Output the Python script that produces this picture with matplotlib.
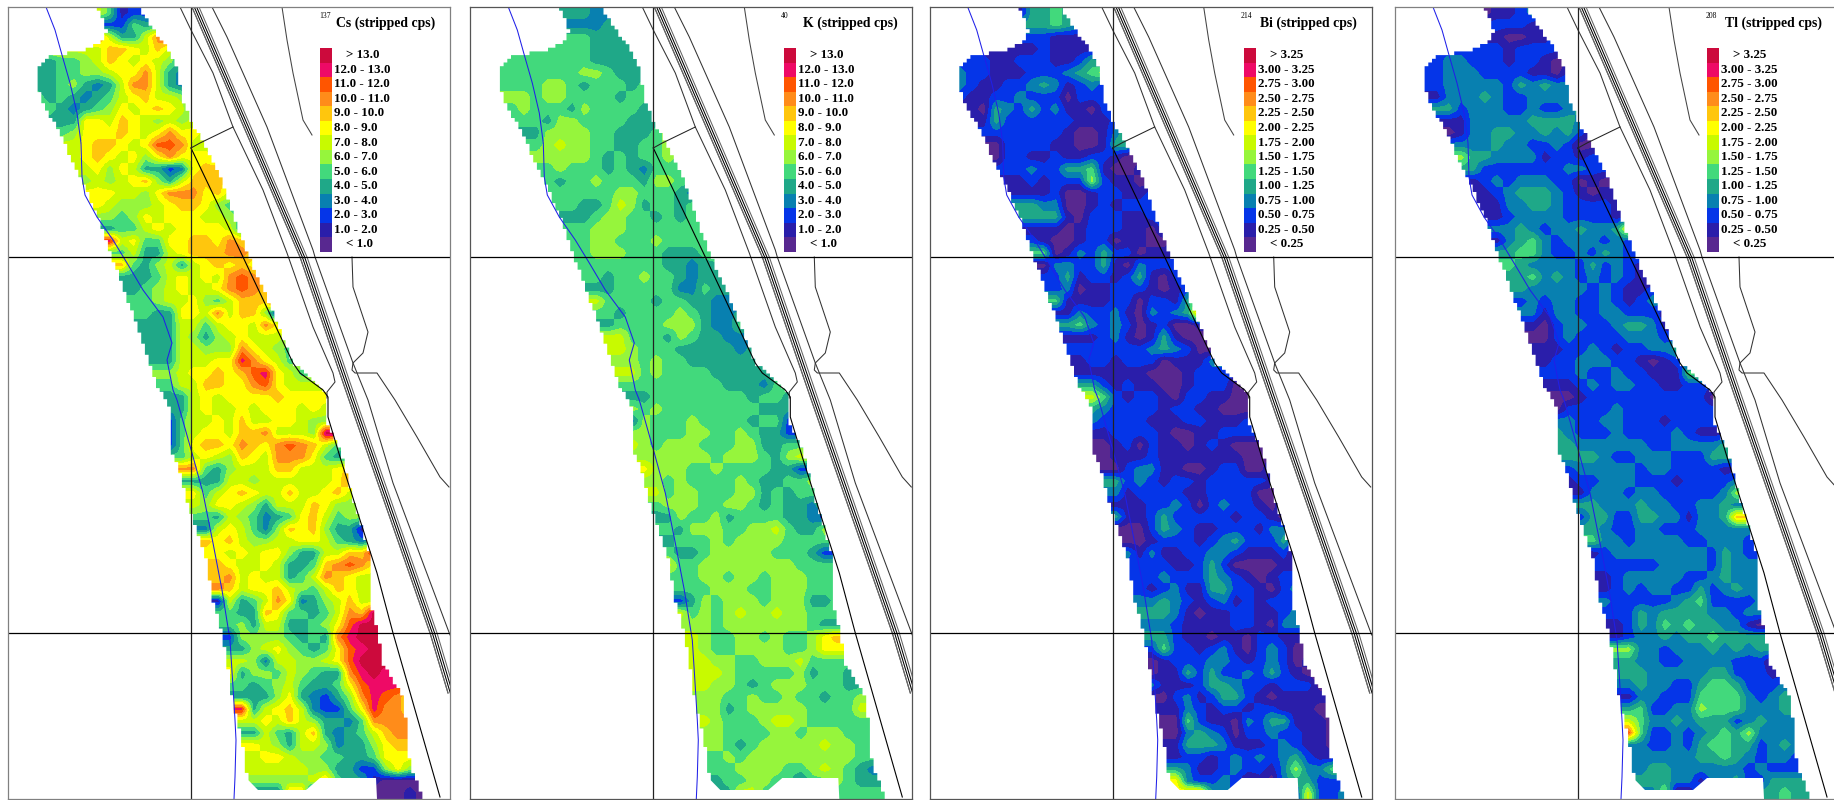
import numpy as np
import matplotlib
matplotlib.use('Agg')
import matplotlib.pyplot as plt
from matplotlib.colors import ListedColormap, BoundaryNorm
from matplotlib.patches import Polygon

# class colours, lowest (a) to highest (n)
class_colors = ['#582890', '#2A1EAA', '#0535E8', '#0880B0', '#1FA888', '#42D97C', '#96F53C',
                '#C8FA00', '#FFFF00', '#FFC60D', '#FF8C1A', '#FF5500', '#EE0A66', '#CC0A3C']
class_letters = 'abcdefghijklmn'

cs_labels = ['> 13.0', '12.0 - 13.0', '11.0 - 12.0', '10.0 - 11.0', '9.0 - 10.0', '8.0 - 9.0', '7.0 - 8.0',
             '6.0 - 7.0', '5.0 - 6.0', '4.0 - 5.0', '3.0 - 4.0', '2.0 - 3.0', '1.0 - 2.0', '< 1.0']
bi_labels = ['> 3.25', '3.00 - 3.25', '2.75 - 3.00', '2.50 - 2.75', '2.25 - 2.50', '2.00 - 2.25', '1.75 - 2.00',
             '1.50 - 1.75', '1.25 - 1.50', '1.00 - 1.25', '0.75 - 1.00', '0.50 - 0.75', '0.25 - 0.50', '< 0.25']

# one row of letters per 12 px of map, the start list says which 12 px column it begins in
cs_start = [7,8,7,6,3,2,2,2,3,4,4,5,5,6,6,7,7,8,8,8,9,9,10,10,11,11,11,12,12,12,13,13,14,13,13,13,13,14,14,15,15,15,16,16,16,17,17,17,17,17,18,18,18,18,18,18,19,19,19,20,20,20,20,20,20,21]
cs_rows = ["hfbcc","ccfee","kheehkm","hhjjihjhe","effghjihihge","eeffgghiikhed","eefgedehkkhed","fefedefhijhhg",
"fedefgihijihe","eeiihjihghgh","fgiiijihikiih","hijjihillkhhg","hijihigikiiih","higiheecdijji","ghghijgehjjji",
"iihhgikkkijh","ihggghijjigf","gfgihiiihhgf","effhihiiiihe","mhiffiijjikjj","fheehijjjkkj","jfeghehijijih",
"eefhihihklkj","efghihhiklkj","fghhigfhjjjn","feeiihkhjjgb","eeehhfhiihkin","eehgeghihhhg","eehhgggkihgf",
"eehhhiimkihfg","ghiijijlmihf","fhhjjiiklihhhh","ehihiiiijiiiib","eehihhihiiihihc","cfhhihjhhiihgg","cfhiihjjkhhhgn",
"cfijjikjiklkjhf","fhihgjihkkkife","kkfeghhhjjhhhij","eeehhghhhhhhik","ifhijihhjhhijh","hgiihgehhhjiggg",
"fehgfdefijhfgg","dhihfdgjijgeeb","jijhgghhiihfede","ihihiigeehhjjm","jihhiheefjklki","jkhihhefhkjihh",
"kjhiijhgfhjihh","bhefhkideghjhh","feejiffefhkjng","fgehheefgilnn","cggggfefekmnn","eeghigfefilmn","hhgdhhgghilnnn",
"ieggfhgfeekmnm","fefghfeefilmmm","eeegiedcegkmlki","mehijhdccfimkki","hihjhgeedfkkkk","ehfehjedefhjkk",
"ihgehhgdeegijj","hiihggffeefiii","hhhhhggeeccgig","ggggghjfeebaaaa","ddjjaaaaaaaaba"]

k_start = [7,8,7,6,3,3,3,3,3,4,4,5,5,6,6,7,7,8,9,8,9,9,10,10,10,11,11,12,12,12,13,13,14,13,13,13,13,14,14,15,15,15,15,16,16,16,16,17,17,17,17,18,18,18,18,18,19,19,19,19,20,20,20,20,20,20]
k_rows = ["eeedd","dddee","fffeeee","ffffeeeee","fffffffeeeee","ffffffggfeee","fffggfefffef","ggfggffffeff",
"fgfffegffffed","ffeggffffeee","eeggggffeeefg","fghggffeeffg","gggggfefeffgf","fgfffefedfff","feffgfffeggf",
"fffffggfffed","ffeefhgeffef","eefggffefeff","fgggfffffff","ffggfffgffff","fgggfffeeefg","fffffffeedee",
"feffgffedeef","eefffffddfee","hffffeffeeddb","feffffgfedde","effffgggeddf","hfffegfeeddc","hgfffeeeeede",
"ggfgffeeeeee","hfgffffeeeee","ffffffffeeedff","effffffffeffee","gfgffffffffeee","dgfffgffffeffc","ggfffggffgfeec",
"hgfgggfffggeeff","ggggggfgggfegh","igggffgffffeec","gfgffffgfeeffg","hfggfffggefeff","fgggffggfefeedf",
"eegffgeffffeedc","fegggffgghfeeg","efffgfggggffff","feefgggggfffec","hffggggggggfff","ffggfggfgggfff",
"fffgggffgggfff","cegfgggfgggeef","hfgfghgghggfff","ggfgggggggfee","hgffggfgffgij","hgffggggffgii","hhggffggghfff",
"hhhgfffffgeffe","hggfefgggfffee","ggffgffgffeffg","ggefgggggffffh","hgfffghhgfffff","gffffggfgggfff",
"gfefggggghggff","fgfgggggggggff","ffggggffghgfed","effggffdffgfeee","eehhfffffffffff"]

bi_start = [7,8,8,6,3,2,2,2,3,4,5,5,5,6,6,7,7,8,9,8,9,9,10,10,10,11,11,12,12,12,13,13,13,13,13,13,13,14,14,14,15,15,15,16,16,16,17,17,17,17,18,18,18,18,18,18,18,19,19,19,19,19,20,20,20,20]
bi_rows = ["beefe","eefed","ccbbba","bbbcbbbbc","ccbbcccbbced","dccbbbcccdefg","dcbbccdedbcdc","cbbccdcccaccc",
"baedcecdbbacc","beccccccbbbc","ccccccbaabdf","accccbbaabee","accbbcbbccbaa","ccdcceefbaab","bbcbcccgcbba",
"bbbcaabccbbc","eeddaabcbccc","eeebacccbbcd","bbabcccbbac","cbaabccabbaab","fabdceccabbb","addccebadccc",
"cebccbcebacc","cdabbcccbabc","fbbbbccaccbeg","bdccdbadcdek","efdcdcabcaab","bbcdbabebaaa","ccccccdedcaa",
"bccbcccabbbd","bbbbbaaabccc","ecbcbbaabcccaa","hfcbccbaccbbaae","edccccbccbbaaaf","dccccbbbccbbbc","bbccccbaabbccc",
"aabcacbbabcbaaa","abbbcbbbbbbbaa","aacddbbaabccaac","eecdcbccbcccccb","dbccccbbccccaa","bbbccdcacdccbac",
"ebbcecccccbccba","aacedcbbcccbdd","aabcccbcdecccec","dbdbbccddcbbbca","cccbbcecaaaabb","ccdcccedcbabcc",
"cbcdbbeeccbacd","ddedcbcdbcbccc","eedbabbccbbcde","ddcbbbbccbadd","eecbbabbaccbb","cfccbcdbacdca","abcccddcbcdcab",
"abbececcdcecba","dbbbceedccbccca","acdbceecbabbbb","bbdcbccbccbbbaa","aafcbbadceebbba","aadedcaccdccbba",
"bbeeedbbbcdcbba","bccbcdcdcdecbb","edbbcdccbdgddf","idccdcabadeeccc","ijjedcccccchccd"]

tl_start = [7,8,8,6,3,2,2,3,3,4,4,5,5,6,6,7,7,8,9,8,9,9,10,10,10,11,11,12,12,12,13,13,14,13,13,13,13,14,14,14,15,15,15,16,16,16,17,17,17,17,18,18,18,18,18,18,19,19,19,19,19,20,20,20,20,21]
tl_rows = ["abbcd","cccba","baabbc","cccbccccc","cddcccbccbaa","ccdddccccbbac","ccdddddcededd","bdddedccdddd",
"eecdddccdccde","bbdddddeeeed","abddeeddedeca","dddeddccdcaa","geeddddbccbc","ecccccccddcc","bcdcdddccaba",
"bcdeeedcbabb","bbddeedccccb","bcddddccccbc","dedcddeddei","bdefdcdddcdc","effdccdcedcd","feddddcecdcb",
"efdedcdcdcba","edddddcdcbbc","cdcddccdcbcd","dbddccddcccb","bacddccdeedb","acdccccdddc","bbccdcbccdde",
"bccdddccbabc","ccdccdccbbbf","bbcdcddccbbccc","abccccccccccaa","accccdcccccccca","ddccddcccbcccc","edcccdccccdcbb",
"eeddddddccdddde","eeedccdddcccee","cdddddcddccccb","bccdddcccbccccd","bdddcddcccccdg","eedddeddccdded",
"ceecceeddbddej","edccddcccdddd","fddcddddccdddc","bcddddddddcedc","cccccddddcedd","bcdddddccdedd",
"bcdcddccecdedd","dcccccdefccccd","ccedeeeeddcdde","bcedfefeeddba","bcddedeefeeee","ggddcdddedede","eeddccddddccca",
"eeedddddeecccb","deddcceffecccd","bddcccffffdcde","efccddgfffddde","hfddedeeecdedd","lfccdcdefegddd",
"dccdceffeecded","dddddeefedcddc","deeddddddcdccc","eeeddbddecceeee","dgaaeeeeeeefee"]

# outline of the surveyed strip
left_y = [7, 30, 40, 48, 55, 65, 88, 100, 115, 130, 150, 170, 190, 220, 245, 270, 300, 325, 355, 385, 400, 410, 445, 470, 500, 530, 560, 600, 630, 680, 700, 740, 760, 778]
left_x = [90, 100, 92, 79, 39, 30, 30, 35, 42, 52, 60, 70, 79, 92, 100, 110, 120, 130, 139, 150, 159, 162, 162, 172, 179, 189, 199, 205, 214, 222, 225, 234, 237, 240]
right_y = [7, 30, 50, 70, 100, 125, 150, 190, 230, 257, 290, 325, 365, 385, 400, 425, 455, 490, 530, 565, 610, 635, 665, 690, 700, 750, 775, 790, 799]
right_x = [130, 145, 159, 170, 174, 184, 199, 217, 230, 240, 255, 269, 285, 309, 320, 319, 334, 342, 354, 364, 364, 370, 375, 389, 397, 399, 405, 412, 415]
notch_x = [250, 298, 312, 368, 369]
notch_y = [790, 790, 778, 778, 799]

# line work, same on all four maps
river_x = [38, 47, 54, 62, 69, 73, 74, 77, 89, 105, 119, 135, 155, 164, 159, 165, 169, 184, 195, 205, 214, 222, 225, 227, 228, 227, 226]
river_y = [7, 30, 55, 83, 113, 143, 177, 195, 217, 240, 263, 290, 317, 343, 360, 390, 400, 453, 493, 543, 590, 640, 687, 720, 740, 777, 799]
coast_x = [183, 235, 285, 292, 315, 320, 320, 332, 352, 369, 385, 432]
coast_y = [148, 257, 363, 373, 390, 397, 417, 457, 520, 573, 633, 797]
stub_x = [183, 192, 225]
stub_y = [148, 143, 127]
road_x = [172, 183, 205, 225, 255, 279, 305, 325, 327, 319, 319]
road_y = [7, 30, 73, 127, 190, 253, 327, 373, 382, 392, 398]
rail_x = [184, 292, 340, 422, 440]
rail_y = [7, 257, 397, 633, 693]
rail_offsets = [0, 2.3, 4.6, 7]
east_x = [204, 219, 259, 305, 307, 345, 360, 385, 442]
east_y = [7, 37, 127, 250, 257, 363, 400, 483, 635]
curve_x = [274, 279, 285, 295, 304]
curve_y = [7, 40, 73, 120, 135]
creek_x = [344, 345, 360, 355, 345, 344, 347, 369, 387, 409, 432, 441]
creek_y = [257, 287, 332, 353, 363, 370, 373, 373, 400, 437, 477, 487]
grid_x = 183
grid_y = [257, 633]

panel_left = [8, 470.3, 929.7, 1395]
panel_frame = ['#808080', '#555555', '#555555', '#808080']
legend_left = [312, 314, 314, 312]
titles = ['Cs (stripped cps)', 'K (stripped cps)', 'Bi (stripped cps)', 'Tl (stripped cps)']
isotopes = ['137', '40', '214', '208']
panel_rows = [cs_rows, k_rows, bi_rows, tl_rows]
panel_start = [cs_start, k_start, bi_start, tl_start]
panel_labels = [cs_labels, cs_labels, bi_labels, bi_labels]

CELL = 12
STEP = 3.7
SERIF = 'Liberation Serif'


def grid_from_rows(rows, starts, ncols=37):
    # rows are padded out with their end values, the outline clips them later
    grid = np.zeros((len(rows), ncols))
    for r, (row, start) in enumerate(zip(rows, starts)):
        vals = [class_letters.index(ch) for ch in row]
        grid[r, :start] = vals[0]
        grid[r, start:start + len(vals)] = vals
        grid[r, start + len(vals):] = vals[-1]
    return grid


def strip_outline():
    # the map cells are blocky, so the outline goes in steps too
    ys = np.arange(7, 778, STEP)
    pts = []
    for y in ys:
        x = np.round(np.interp(y, left_y, left_x) / STEP) * STEP
        pts += [(x, y), (x, y + STEP)]
    pts += list(zip(notch_x, notch_y))
    for y in np.arange(799, 7, -STEP):
        x = np.round(np.interp(y, right_y, right_x) / STEP) * STEP
        pts += [(x, y), (x, y - STEP)]
    return pts


def draw_lines(ax):
    ax.plot(rail_x, rail_y, color='#555555', lw=0.8)
    for i, off in enumerate(rail_offsets):
        ax.plot(np.array(rail_x) + off, rail_y, color='black' if i % 3 else '#666666', lw=0.75)
    ax.plot(road_x, road_y, color='#333333', lw=0.75)
    ax.plot(east_x, east_y, color='#333333', lw=0.75)
    ax.plot(curve_x, curve_y, color='#444444', lw=0.75)
    ax.plot(creek_x, creek_y, color='#333333', lw=0.75)
    ax.plot(coast_x, coast_y, color='black', lw=0.8)
    ax.plot(stub_x, stub_y, color='#222222', lw=0.75)
    ax.plot(river_x, river_y, color='#2020E8', lw=0.75)
    ax.axvline(grid_x, color='#222222', lw=0.9)
    for y in grid_y:
        ax.axhline(y, color='black', lw=0.9)


def draw_legend(ax, i):
    x0 = legend_left[i]
    h = 14.55
    tops = 48 + h * np.arange(14)
    ax.bar([x0 + 6] * 14, [h] * 14, width=12, bottom=tops, color=class_colors[::-1], linewidth=0)
    for top, label in zip(tops, panel_labels[i]):
        x = x0 + 26 if label[0] in '<>' else x0 + 14
        ax.text(x, top + h / 2, label, family=SERIF, fontsize=9.4, fontweight='bold', ha='left', va='center')
    ax.text(427, 23, titles[i], family=SERIF, fontsize=9.9, fontweight='bold', ha='right', va='center')
    ax.text(311, 16, isotopes[i], family=SERIF, fontsize=5.5, ha='left', va='center')


fig = plt.figure(figsize=(18.34, 8.0), dpi=100, facecolor='white')
cmap = ListedColormap(class_colors)
norm = BoundaryNorm(np.arange(-0.5, 14.5), cmap.N)
outline = strip_outline()

for i in range(4):
    ax = fig.add_axes([panel_left[i] / 1834, 1 / 800, 442 / 1834, 792 / 800])
    grid = grid_from_rows(panel_rows[i], panel_start[i])
    extent = (0, grid.shape[1] * CELL, 7 + grid.shape[0] * CELL, 7)
    # class patches blend into each other like the contoured survey map
    img = ax.imshow(grid, cmap=cmap, norm=norm, extent=extent, aspect='auto',
                    interpolation='bilinear', interpolation_stage='data')
    clip = Polygon(outline, closed=True, transform=ax.transData, fill=False, edgecolor='none')
    ax.add_patch(clip)
    img.set_clip_path(clip)
    draw_lines(ax)
    draw_legend(ax, i)
    ax.set_xlim(0, 442)
    ax.set_ylim(799, 7)
    ax.set_xticks([])
    ax.set_yticks([])
    for s in ax.spines.values():
        s.set_color(panel_frame[i])
        s.set_linewidth(0.9)

fig.savefig('out.png', dpi=100, facecolor='white')
